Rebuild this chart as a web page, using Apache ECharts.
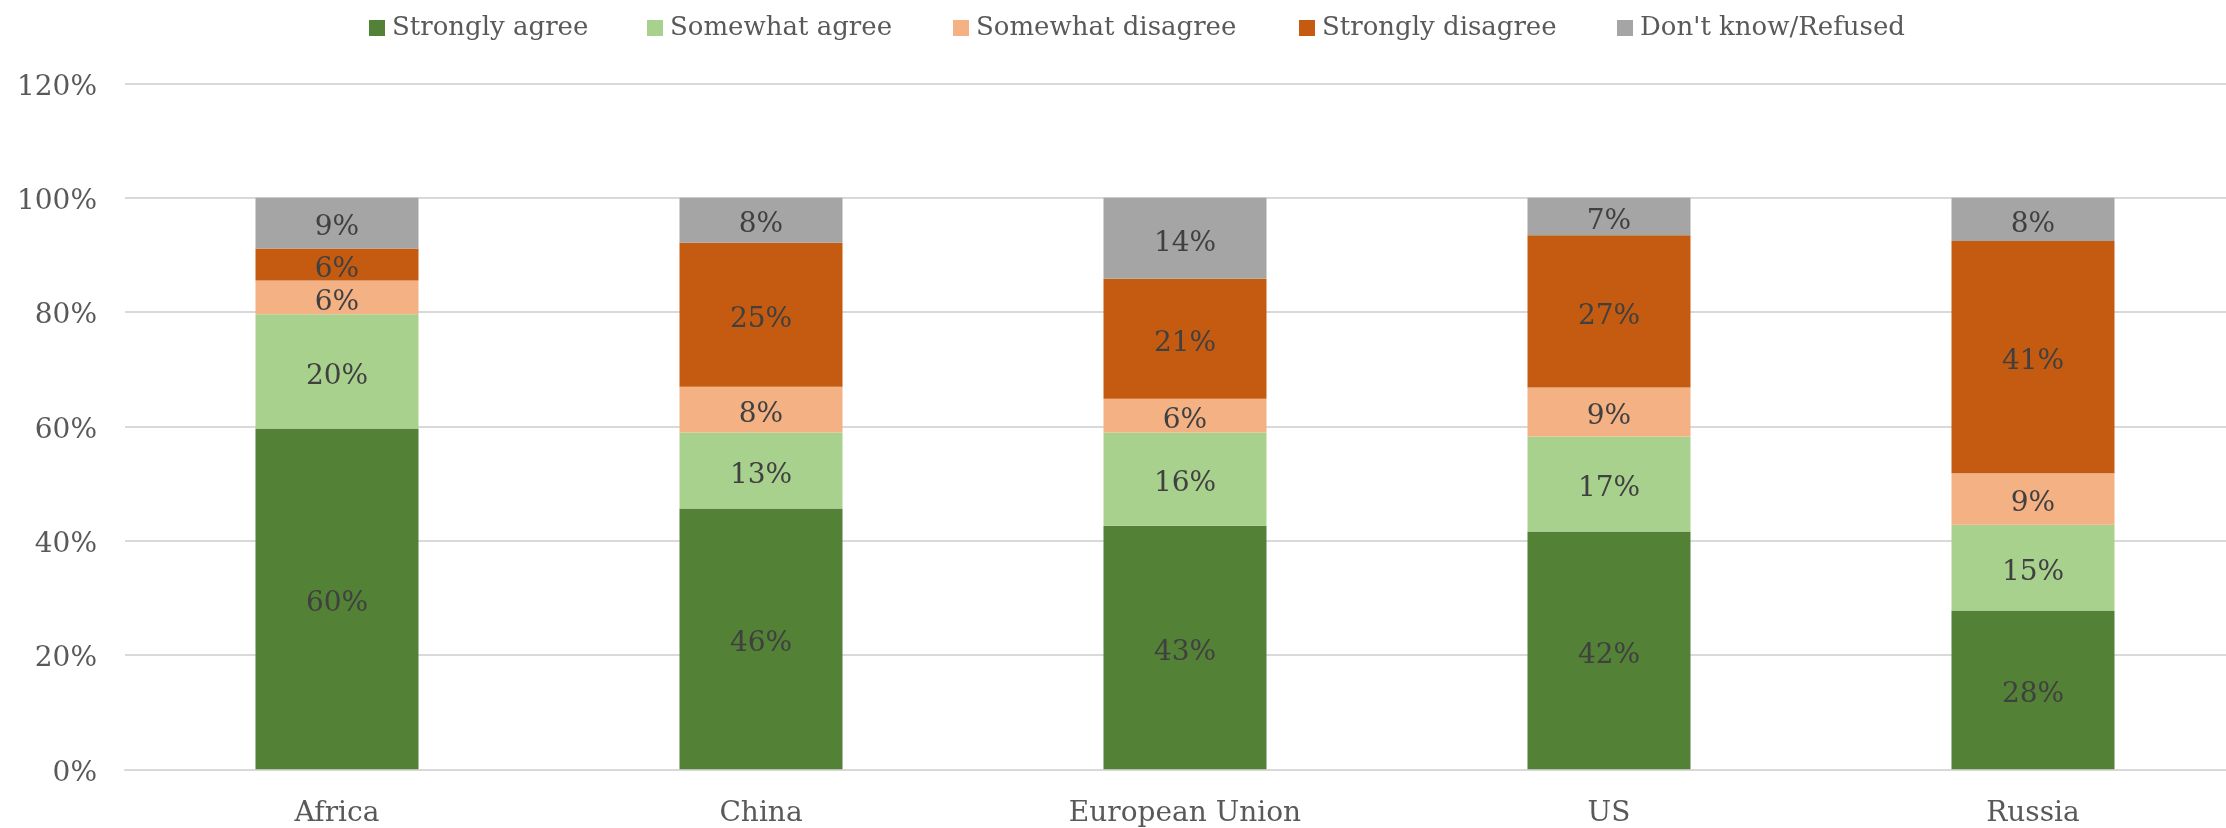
<!DOCTYPE html>
<html>
<head>
<meta charset="utf-8">
<script src="https://cdn.jsdelivr.net/npm/echarts@6/dist/echarts.min.js"></script>
<style>
  html, body { margin: 0; padding: 0; background: #ffffff; }
  #chart { width: 2226px; height: 828px; }
</style>
</head>
<body>
<div id="chart"></div>
<script>
// Survey regions along the x axis
const regions = ['Africa', 'China', 'European Union', 'US', 'Russia'];

// Response shares per region, in percent
const stronglyAgree    = [59.6, 45.6, 42.6, 41.6, 27.8];
const somewhatAgree    = [20.0, 13.3, 16.3, 16.6, 15.0];
const somewhatDisagree = [5.9, 8.0, 5.9, 8.6, 9.0];
const stronglyDisagree = [5.6, 25.2, 21.0, 26.6, 40.6];
const dontKnow         = [8.9, 7.9, 14.2, 6.6, 7.6];

// Response categories (legend order) and their colours
const responseNames = ['Strongly agree', 'Somewhat agree', 'Somewhat disagree', 'Strongly disagree', "Don't know/Refused"];
const responseColors = ['#538135', '#A9D18E', '#F4B183', '#C55A11', '#A5A5A5'];
const responseValues = [stronglyAgree, somewhatAgree, somewhatDisagree, stronglyDisagree, dontKnow];

// Value axis settings
const yMin = 0, yMax = 120, yStep = 20;

const FONT = '"DejaVu Serif", "Liberation Serif", serif';
const legendLeft = [364, 642, 948, 1294, 1612];

const chart = echarts.init(document.getElementById('chart'), null, { renderer: 'canvas' });

// One legend block per response so each entry sits at its own position
const legends = responseNames.map((name, i) => ({
  data: [name],
  left: legendLeft[i],
  top: 10,
  icon: 'rect',
  itemWidth: 16,
  itemHeight: 16,
  itemGap: 0,
  selectedMode: false,
  textStyle: { fontFamily: FONT, fontSize: 26, color: '#595959', padding: [0, 0, 0, 2] }
}));

const series = responseNames.map((name, i) => ({
  name: name,
  type: 'bar',
  stack: 'total',
  barWidth: 163,
  data: responseValues[i],
  itemStyle: { color: responseColors[i] },
  label: {
    show: true,
    position: 'inside',
    offset: [0, 5],
    fontFamily: FONT,
    fontSize: 28,
    color: '#404040',
    formatter: p => Math.round(p.value) + '%'
  },
  emphasis: { disabled: true }
}));

chart.setOption({
  animation: false,
  backgroundColor: '#ffffff',
  legend: legends,
  grid: {
    left: 125,
    right: -19,
    top: 83.3,
    bottom: 58.7,
    containLabel: false,
    outerBoundsMode: 'none'
  },
  xAxis: {
    type: 'category',
    data: regions,
    axisTick: { show: false },
    axisLine: { show: true, lineStyle: { color: '#D9D9D9', width: 2 } },
    axisLabel: { fontFamily: FONT, fontSize: 28, color: '#595959', margin: 30 }
  },
  yAxis: {
    type: 'value',
    min: yMin,
    max: yMax,
    interval: yStep,
    axisLine: { show: false },
    axisTick: { show: false },
    splitLine: { lineStyle: { color: '#D9D9D9', width: 2 } },
    axisLabel: {
      fontFamily: FONT, fontSize: 28, color: '#595959', margin: 28,
      verticalAlign: 'top',
      lineHeight: 8,
      formatter: '{value}%'
    }
  },
  series: series
});
</script>
</body>
</html>
